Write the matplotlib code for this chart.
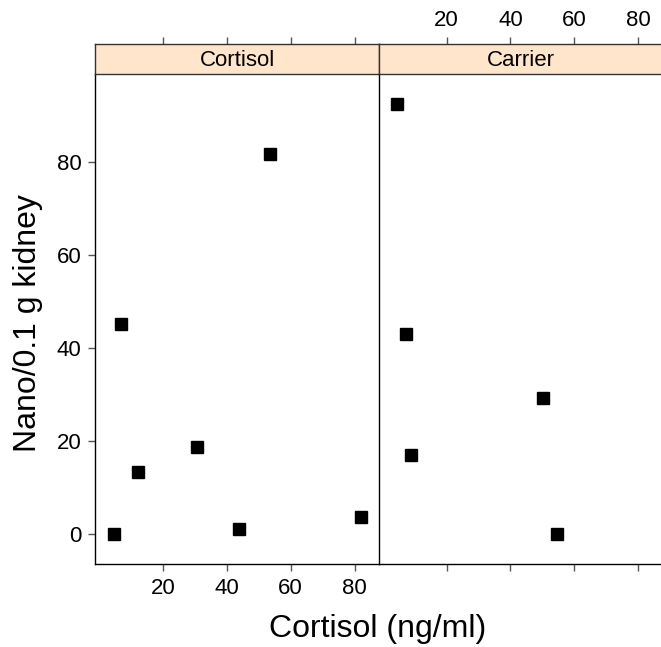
import matplotlib
matplotlib.use("Agg")
import matplotlib.pyplot as plt

plt.rcParams["font.family"] = ["Liberation Sans", "DejaVu Sans"]

# Data
panels = ["Cortisol", "Carrier"]
cortisol_x = [4.6, 7.0, 12.3, 30.7, 43.8, 53.5, 82.1]
cortisol_y = [0.0, 45.1, 13.3, 18.6, 1.0, 81.7, 3.5]
carrier_x = [4.6, 7.4, 8.9, 50.2, 54.6]
carrier_y = [92.3, 42.9, 16.9, 29.1, 0.0]
xticks = [20, 40, 60, 80]
yticks = [0, 20, 40, 60, 80]

xs = [cortisol_x, carrier_x]
ys = [cortisol_y, carrier_y]

fig = plt.figure(figsize=(6.61, 6.47), dpi=100)

lefts = [0.1442, 0.5734]
width = 0.4292
bottom, height = 0.1283, 0.7578
strip_h = 0.0459

for i in range(2):
    ax = fig.add_axes([lefts[i], bottom, width, height])
    ax.plot(xs[i], ys[i], "s", color="black", markersize=9)
    ax.set_xlim(-1.1, 87.6)
    ax.set_ylim(-6.5, 98.9)
    ax.set_xticks(xticks)
    ax.set_yticks(yticks)
    ax.tick_params(direction="out", length=5, width=1, color="#555555",
                   labelsize=16, top=False, right=False, pad=5)
    if i == 1:
        ax.tick_params(labelbottom=False, left=False, labelleft=False)
    else:
        ax.spines["right"].set_visible(False)
    ax.spines["top"].set_visible(False)
    for s in ax.spines.values():
        s.set_linewidth(1.0)
        s.set_color("black")

    # strip on top
    st = fig.add_axes([lefts[i], bottom + height, width, strip_h])
    st.set_facecolor("#FFE5CC")
    st.set_xlim(-1.1, 87.6)
    st.set_xticks(xticks)
    st.set_yticks([])
    st.xaxis.tick_top()
    st.tick_params(direction="out", length=5, width=1, color="#555555",
                   labelsize=16, labeltop=(i == 1), bottom=False,
                   labelbottom=False, pad=4)
    for s in st.spines.values():
        s.set_color("#333333")
        s.set_linewidth(1.0)
    st.text(0.5, 0.45, panels[i], transform=st.transAxes, ha="center",
            va="center", fontsize=16)

fig.text(0.571, 0.0155, "Cortisol (ng/ml)", ha="center", va="baseline", fontsize=23)
fig.text(0.043, 0.5, "Nano/0.1 g kidney", ha="center", va="center",
         rotation=90, fontsize=23)

fig.savefig("out.png", dpi=100)
